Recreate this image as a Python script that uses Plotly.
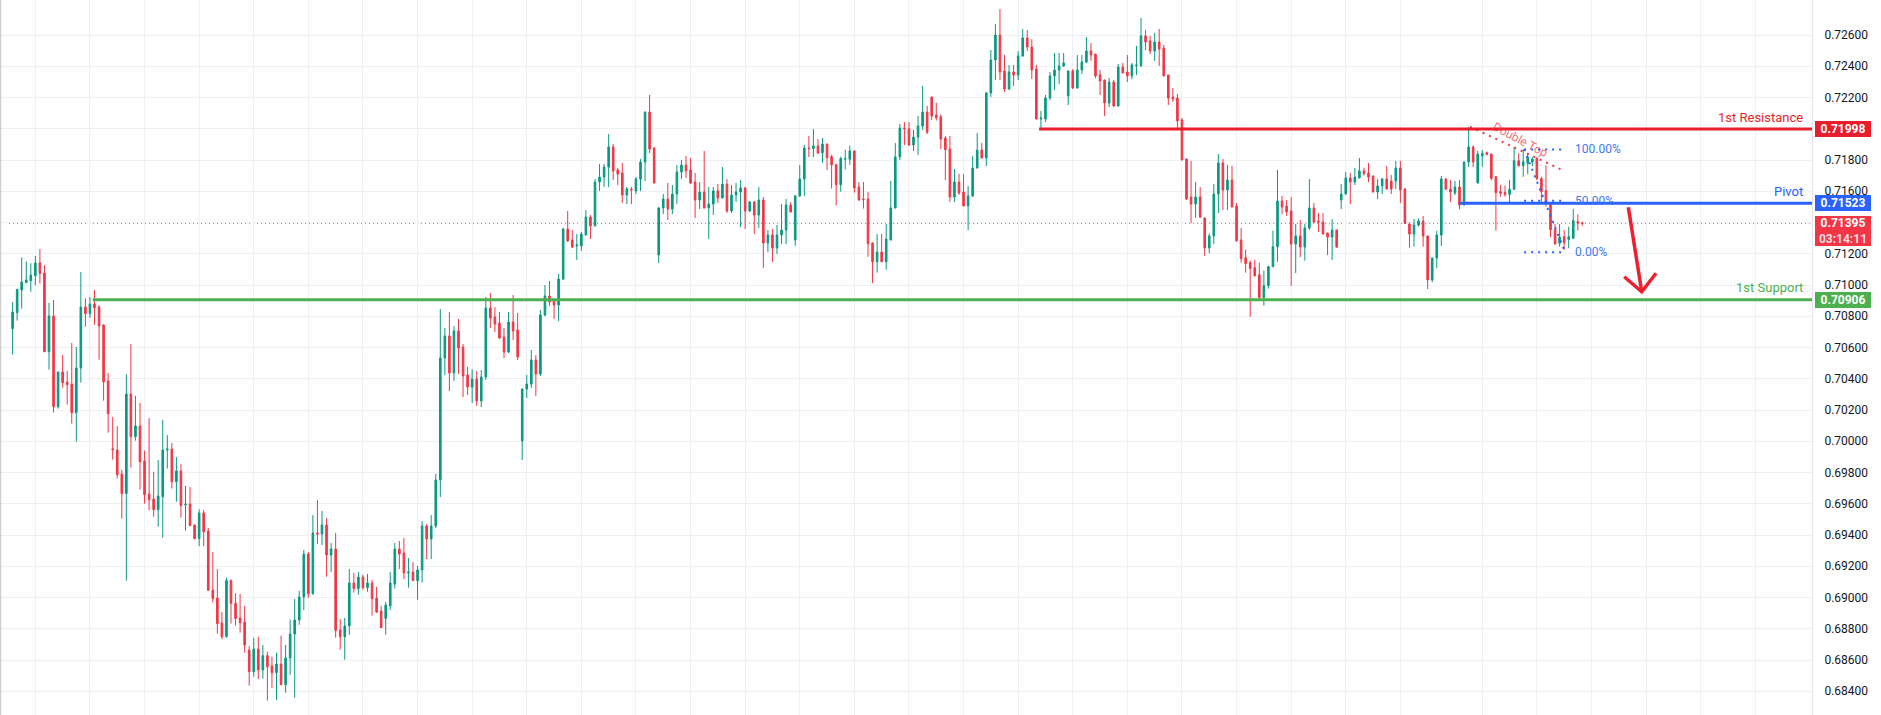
import plotly.graph_objects as go

# ---------------- data ----------------
open_ = [
0.70721,0.70823,0.70968,0.71015,0.71028,0.71060,0.71141,0.71077,0.70573,0.70802,
0.70221,0.70443,0.70379,0.70366,0.70183,0.70469,0.70859,0.70817,0.70878,0.70859,
0.70744,0.70386,0.69952,0.69944,0.69790,0.69665,0.70302,0.70029,0.70098,0.69874,
0.69662,0.69630,0.69562,0.69645,0.69944,0.69950,0.69741,0.69810,0.69594,0.69598,
0.69464,0.69377,0.69541,0.69426,0.69048,0.68997,0.68837,0.68749,0.69108,0.68963,
0.68869,0.68843,0.68664,0.68525,0.68670,0.68536,0.68628,0.68562,0.68519,0.68574,
0.68442,0.68613,0.68766,0.68856,0.69003,0.69278,0.69025,0.69413,0.69406,0.69464,
0.69272,0.69310,0.68792,0.68749,0.68818,0.69093,0.69057,0.69131,0.69063,0.69093,
0.68997,0.68914,0.68865,0.68946,0.69086,0.69310,0.69285,0.69157,0.69163,0.69108,
0.69176,0.69458,0.69374,0.69458,0.69752,0.70533,0.70674,0.70437,0.70706,0.70603,
0.70424,0.70347,0.70398,0.70258,0.70411,0.70853,0.70795,0.70757,0.70667,0.70571,
0.70763,0.70712,0.70002,0.70334,0.70366,0.70520,0.70430,0.70808,0.70930,0.70904,
0.70872,0.71038,0.71358,0.71288,0.71250,0.71250,0.71320,0.71435,0.71378,0.71659,
0.71691,0.71755,0.71884,0.71736,0.71717,0.71576,0.71614,0.71602,0.71678,0.71787,
0.72107,0.71877,0.71192,0.71493,0.71550,0.71486,0.71582,0.71723,0.71768,0.71736,
0.71659,0.71544,0.71595,0.71493,0.71518,0.71602,0.71557,0.71646,0.71474,0.71576,
0.71595,0.71621,0.71474,0.71531,0.71448,0.71544,0.71269,0.71320,0.71237,0.71320,
0.71352,0.71512,0.71288,0.71570,0.71678,0.71877,0.71873,0.71890,0.71847,0.71902,
0.71821,0.71770,0.71642,0.71805,0.71805,0.71858,0.71627,0.71550,0.71550,0.71269,
0.71149,0.71211,0.71149,0.71288,0.71493,0.71819,0.72005,0.72000,0.71896,0.71947,
0.72018,0.72107,0.72203,0.72088,0.72077,0.71941,0.71870,0.71563,0.71659,0.71595,
0.71506,0.71570,0.71749,0.71864,0.71813,0.72229,0.72440,0.72600,0.72370,0.72254,
0.72363,0.72344,0.72466,0.72581,0.72523,0.72382,0.72062,0.72062,0.72197,0.72338,
0.72376,0.72402,0.72210,0.72370,0.72261,0.72376,0.72427,0.72498,0.72478,0.72344,
0.72312,0.72165,0.72299,0.72146,0.72395,0.72363,0.72338,0.72404,0.72404,0.72594,
0.72562,0.72498,0.72555,0.72517,0.72344,0.72203,0.72197,0.72056,0.71806,0.71563,
0.71518,0.71563,0.71429,0.71237,0.71314,0.71582,0.71781,0.71608,0.71672,0.71506,
0.71288,0.71175,0.71143,0.71111,0.71066,0.70919,0.70996,0.71117,0.71245,0.71538,
0.71506,0.71474,0.71262,0.71314,0.71243,0.71365,0.71493,0.71410,0.71403,0.71333,
0.71307,0.71352,0.71544,0.71582,0.71685,0.71659,0.71685,0.71730,0.71717,0.71698,
0.71595,0.71634,0.71678,0.71666,0.71666,0.71749,0.71614,0.71390,0.71326,0.71384,
0.71410,0.71314,0.71032,0.71173,0.71320,0.71678,0.71614,0.71589,0.71627,0.71512,
0.71787,0.71883,0.71653,0.71826,0.71847,0.71838,0.71693,0.71597,0.71593,0.71580,
0.71612,0.71796,0.71764,0.71779,0.71787,0.71811,0.71681,0.71604,0.71518,0.71354,
0.71267,0.71309,0.71292,0.71299,0.71405,0.71397]

high = [
0.70891,0.70975,0.71177,0.71151,0.71139,0.71186,0.71230,0.71126,0.70885,0.70904,
0.70445,0.70552,0.70450,0.70629,0.70603,0.71083,0.70915,0.70923,0.70968,0.70872,
0.70750,0.70437,0.70155,0.70098,0.69818,0.70430,0.70622,0.70290,0.70245,0.69940,
0.70149,0.69805,0.69880,0.70136,0.70040,0.69989,0.69899,0.69854,0.69714,0.69707,
0.69466,0.69564,0.69560,0.69445,0.69291,0.69182,0.68907,0.69127,0.69116,0.69027,
0.69023,0.68946,0.68690,0.68743,0.68749,0.68696,0.68653,0.68621,0.68647,0.68756,
0.68696,0.68860,0.68990,0.69042,0.69304,0.69291,0.69528,0.69624,0.69554,0.69509,
0.69349,0.69413,0.68862,0.68869,0.69182,0.69157,0.69163,0.69144,0.69150,0.69112,
0.69069,0.68946,0.68971,0.69163,0.69349,0.69362,0.69381,0.69253,0.69227,0.69202,
0.69490,0.69470,0.69528,0.69790,0.70846,0.70725,0.70827,0.70738,0.70782,0.70622,
0.70475,0.70462,0.70450,0.70456,0.70923,0.70949,0.70859,0.70827,0.70725,0.70827,
0.70936,0.70821,0.70336,0.70424,0.70584,0.70552,0.70840,0.71000,0.71026,0.70910,
0.71070,0.71365,0.71474,0.71352,0.71326,0.71339,0.71480,0.71448,0.71678,0.71774,
0.71774,0.71966,0.71902,0.71749,0.71781,0.71627,0.71627,0.71691,0.71806,0.72110,
0.72216,0.71880,0.71500,0.71582,0.71653,0.71640,0.71768,0.71800,0.71826,0.71813,
0.71717,0.71659,0.71858,0.71627,0.71627,0.71646,0.71755,0.71678,0.71640,0.71653,
0.71672,0.71627,0.71538,0.71538,0.71627,0.71563,0.71352,0.71358,0.71384,0.71518,
0.71550,0.71531,0.71576,0.71768,0.71896,0.71954,0.71998,0.71934,0.71941,0.71905,
0.71834,0.71773,0.71821,0.71866,0.71892,0.71860,0.71659,0.71659,0.71595,0.71272,
0.71326,0.71326,0.71390,0.71666,0.71909,0.72030,0.72043,0.72043,0.71992,0.72082,
0.72274,0.72146,0.72205,0.72167,0.72092,0.71954,0.71954,0.71742,0.71710,0.71710,
0.71634,0.71826,0.71973,0.71909,0.72235,0.72504,0.72670,0.72766,0.72472,0.72408,
0.72408,0.72498,0.72638,0.72632,0.72574,0.72408,0.72114,0.72216,0.72363,0.72485,
0.72485,0.72485,0.72372,0.72382,0.72472,0.72472,0.72587,0.72549,0.72480,0.72376,
0.72314,0.72325,0.72312,0.72414,0.72421,0.72472,0.72421,0.72530,0.72709,0.72632,
0.72594,0.72613,0.72638,0.72536,0.72346,0.72261,0.72222,0.72069,0.71808,0.71794,
0.71659,0.71627,0.71432,0.71330,0.71646,0.71838,0.71806,0.71768,0.71762,0.71525,
0.71365,0.71226,0.71156,0.71162,0.71143,0.71092,0.71124,0.71348,0.71736,0.71570,
0.71544,0.71563,0.71390,0.71416,0.71390,0.71678,0.71525,0.71461,0.71461,0.71335,
0.71422,0.71355,0.71646,0.71723,0.71717,0.71749,0.71813,0.71751,0.71781,0.71700,
0.71678,0.71685,0.71762,0.71704,0.71794,0.71794,0.71621,0.71400,0.71422,0.71427,
0.71442,0.71316,0.71175,0.71346,0.71698,0.71685,0.71672,0.71666,0.71672,0.71790,
0.72011,0.71894,0.71858,0.71864,0.71854,0.71841,0.71696,0.71640,0.71636,0.71672,
0.71885,0.71843,0.71868,0.71832,0.71820,0.71817,0.71693,0.71766,0.71520,0.71390,
0.71390,0.71352,0.71373,0.71486,0.71452,0.71405]

low = [
0.70554,0.70772,0.70849,0.71013,0.70957,0.70998,0.71009,0.70570,0.70458,0.70183,
0.70209,0.70343,0.70234,0.70113,0.69997,0.70375,0.70733,0.70789,0.70746,0.70522,
0.70260,0.70055,0.69882,0.69761,0.69505,0.69108,0.69831,0.70004,0.69690,0.69601,
0.69558,0.69517,0.69453,0.69383,0.69825,0.69697,0.69613,0.69511,0.69428,0.69458,
0.69372,0.69328,0.69328,0.69044,0.68967,0.68769,0.68732,0.68743,0.68833,0.68820,
0.68775,0.68647,0.68436,0.68493,0.68478,0.68481,0.68340,0.68421,0.68344,0.68440,
0.68391,0.68504,0.68359,0.68826,0.68920,0.68999,0.69018,0.69342,0.69336,0.69133,
0.69163,0.68743,0.68666,0.68602,0.68762,0.69031,0.69018,0.69050,0.69037,0.68884,
0.68901,0.68805,0.68762,0.68920,0.69057,0.69182,0.69118,0.69063,0.69106,0.68986,
0.69095,0.69246,0.69246,0.69445,0.69643,0.70424,0.70322,0.70386,0.70430,0.70283,
0.70296,0.70245,0.70226,0.70219,0.70392,0.70725,0.70699,0.70654,0.70533,0.70565,
0.70648,0.70520,0.69880,0.70277,0.70341,0.70290,0.70418,0.70800,0.70866,0.70782,
0.70770,0.71032,0.71275,0.71237,0.71160,0.71218,0.71318,0.71294,0.71376,0.71602,
0.71627,0.71627,0.71672,0.71640,0.71525,0.71518,0.71518,0.71582,0.71602,0.71666,
0.71845,0.71650,0.71141,0.71454,0.71416,0.71454,0.71518,0.71678,0.71685,0.71646,
0.71429,0.71486,0.71490,0.71294,0.71448,0.71525,0.71555,0.71461,0.71461,0.71531,
0.71371,0.71358,0.71467,0.71326,0.71365,0.71109,0.71211,0.71147,0.71198,0.71262,
0.71262,0.71465,0.71250,0.71565,0.71570,0.71819,0.71819,0.71838,0.71783,0.71736,
0.71617,0.71508,0.71597,0.71740,0.71770,0.71591,0.71540,0.71489,0.71181,0.71013,
0.71079,0.71147,0.71098,0.71286,0.71490,0.71800,0.71896,0.71890,0.71858,0.71832,
0.71992,0.71966,0.72056,0.72052,0.71870,0.71672,0.71531,0.71531,0.71576,0.71504,
0.71352,0.71563,0.71745,0.71810,0.71762,0.72203,0.72312,0.72312,0.72235,0.72250,
0.72274,0.72312,0.72460,0.72498,0.72318,0.72060,0.71992,0.72043,0.72184,0.72248,
0.72286,0.72395,0.72152,0.72254,0.72258,0.72350,0.72420,0.72434,0.72325,0.72216,
0.72082,0.72139,0.72139,0.72144,0.72355,0.72299,0.72318,0.72344,0.72395,0.72504,
0.72478,0.72434,0.72402,0.72336,0.72152,0.72171,0.72005,0.71798,0.71544,0.71397,
0.71429,0.71429,0.71186,0.71203,0.71262,0.71461,0.71480,0.71480,0.71497,0.71280,
0.71143,0.71079,0.70797,0.71053,0.70917,0.70868,0.70977,0.71115,0.71149,0.71454,
0.71442,0.70994,0.71077,0.71179,0.71156,0.71352,0.71397,0.71339,0.71324,0.71192,
0.71160,0.71237,0.71486,0.71580,0.71518,0.71640,0.71683,0.71700,0.71659,0.71593,
0.71550,0.71582,0.71612,0.71582,0.71614,0.71525,0.71390,0.71239,0.71245,0.71374,
0.71245,0.70974,0.71017,0.71109,0.71250,0.71608,0.71531,0.71576,0.71484,0.71510,
0.71755,0.71755,0.71650,0.71757,0.71830,0.71670,0.71348,0.71565,0.71565,0.71529,
0.71610,0.71757,0.71693,0.71710,0.71760,0.71670,0.71523,0.71501,0.71305,0.71260,
0.71245,0.71224,0.71235,0.71297,0.71348,0.71380]

close = [
0.70827,0.70972,0.71019,0.71032,0.71064,0.71141,0.71073,0.70573,0.70802,0.70221,
0.70443,0.70375,0.70362,0.70183,0.70469,0.70859,0.70817,0.70878,0.70855,0.70738,
0.70381,0.70177,0.69946,0.69786,0.69665,0.70302,0.70029,0.70098,0.69869,0.69658,
0.69626,0.69562,0.69650,0.69944,0.69950,0.69741,0.69810,0.69588,0.69598,0.69460,
0.69377,0.69541,0.69421,0.69046,0.68993,0.68833,0.68749,0.69108,0.68963,0.68865,
0.68839,0.68696,0.68525,0.68670,0.68536,0.68628,0.68557,0.68519,0.68574,0.68442,
0.68613,0.68766,0.68856,0.69003,0.69278,0.69025,0.69413,0.69406,0.69464,0.69272,
0.69310,0.68788,0.68749,0.68818,0.69093,0.69057,0.69131,0.69063,0.69093,0.68993,
0.68907,0.68807,0.68952,0.69093,0.69310,0.69278,0.69157,0.69163,0.69108,0.69176,
0.69458,0.69374,0.69458,0.69752,0.70533,0.70674,0.70437,0.70706,0.70597,0.70418,
0.70347,0.70398,0.70258,0.70411,0.70853,0.70789,0.70750,0.70661,0.70571,0.70763,
0.70706,0.70539,0.70334,0.70366,0.70520,0.70430,0.70808,0.70930,0.70891,0.70872,
0.71038,0.71358,0.71282,0.71243,0.71256,0.71326,0.71435,0.71378,0.71659,0.71691,
0.71755,0.71884,0.71730,0.71710,0.71576,0.71614,0.71610,0.71678,0.71787,0.72107,
0.71870,0.71653,0.71493,0.71550,0.71486,0.71582,0.71723,0.71768,0.71730,0.71653,
0.71544,0.71595,0.71493,0.71518,0.71602,0.71557,0.71646,0.71474,0.71576,0.71595,
0.71621,0.71474,0.71531,0.71448,0.71544,0.71269,0.71320,0.71237,0.71320,0.71352,
0.71512,0.71467,0.71570,0.71678,0.71877,0.71873,0.71890,0.71845,0.71902,0.71815,
0.71770,0.71642,0.71809,0.71809,0.71858,0.71621,0.71544,0.71546,0.71265,0.71149,
0.71211,0.71149,0.71294,0.71493,0.71819,0.72005,0.72000,0.71896,0.71947,0.72018,
0.72107,0.71979,0.72082,0.72071,0.71934,0.71866,0.71563,0.71659,0.71589,0.71506,
0.71570,0.71749,0.71864,0.71813,0.72229,0.72440,0.72600,0.72363,0.72254,0.72363,
0.72344,0.72466,0.72581,0.72523,0.72376,0.72062,0.72069,0.72197,0.72338,0.72376,
0.72402,0.72421,0.72370,0.72261,0.72376,0.72427,0.72498,0.72472,0.72338,0.72306,
0.72165,0.72299,0.72146,0.72395,0.72357,0.72338,0.72408,0.72408,0.72594,0.72555,
0.72498,0.72555,0.72510,0.72338,0.72197,0.72190,0.72050,0.71800,0.71550,0.71518,
0.71563,0.71435,0.71237,0.71314,0.71582,0.71781,0.71608,0.71672,0.71499,0.71282,
0.71168,0.71137,0.71105,0.71060,0.70919,0.70996,0.71117,0.71245,0.71538,0.71499,
0.71467,0.71262,0.71314,0.71243,0.71365,0.71493,0.71403,0.71403,0.71326,0.71307,
0.71352,0.71243,0.71582,0.71685,0.71659,0.71691,0.71730,0.71713,0.71691,0.71595,
0.71634,0.71678,0.71614,0.71614,0.71749,0.71608,0.71395,0.71326,0.71384,0.71410,
0.71314,0.71032,0.71173,0.71320,0.71678,0.71614,0.71595,0.71627,0.71512,0.71787,
0.71883,0.71787,0.71838,0.71843,0.71836,0.71683,0.71591,0.71587,0.71580,0.71612,
0.71796,0.71764,0.71789,0.71817,0.71806,0.71681,0.71597,0.71529,0.71354,0.71262,
0.71305,0.71271,0.71309,0.71412,0.71395,0.71395]

bar_index = list(range(len(close)))

# price-axis ticks and time-grid positions (bar indices)
y_ticks = [0.684, 0.686, 0.688, 0.690, 0.692, 0.694, 0.696, 0.698, 0.700, 0.702, 0.704,
           0.706, 0.708, 0.710, 0.712, 0.714, 0.716, 0.718, 0.720, 0.722, 0.724, 0.726]
# labels hidden behind the price boxes in the reference
y_hidden = [0.714, 0.720]
time_grid = [5, 17, 29, 41, 53, 65, 77, 89, 101, 113, 125, 137, 149, 161, 173, 185, 197,
             209, 221, 233, 245, 257, 269, 281, 293, 305, 323, 335, 347, 359, 371, 383]

# key levels
resistance, resistance_start, resistance_name = 0.71998, 225.6, "1st Resistance"
pivot, pivot_start, pivot_name = 0.71523, 318.0, "Pivot"
support, support_start, support_name = 0.70906, 17.6, "1st Support"
last_price, countdown = 0.71395, "03:14:11"

# fibonacci drawing
fib_levels = [0.71868, 0.71539, 0.71210]
fib_labels = ["100.00%", "50.00%", "0.00%"]
fib_start, fib_end, fib_text_x = 332.2, 341.2, 342.9

# double top pattern line
dtop_x = [320.3, 341.0]
dtop_y = [0.72013, 0.71730]
dtop_text_x, dtop_text_y, dtop_text = 331.4, 0.71928, "Double Top"

# projected move arrow (shaft and head)
arrow_x = [355.1, 358.05, None, 354.2, 358.05, 361.2]
arrow_y = [0.71497, 0.70957, None, 0.71053, 0.70957, 0.71075]

# view window
x_view = [-2.769, 395.47]
y_view = [0.68248, 0.72824]

# ---------------- styling ----------------
UP = "#089981"
DOWN = "#F23645"
RES_RED = "#E91E2C"
PIV_BLUE = "#2962FF"
SUP_GREEN = "#4CAF50"
GRID = "#eef0f3"
FONT = "Roboto"

fig = go.Figure()
fig.add_trace(go.Candlestick(
    x=bar_index, open=open_, high=high, low=low, close=close,
    increasing=dict(line=dict(color=UP, width=1), fillcolor=UP),
    decreasing=dict(line=dict(color=DOWN, width=1), fillcolor=DOWN),
    whiskerwidth=0, showlegend=False, hoverinfo="skip"))

# fib levels (dotted)
for lv in fib_levels:
    fig.add_trace(go.Scatter(x=[fib_start, fib_end], y=[lv, lv], mode="lines",
                             line=dict(color=PIV_BLUE, width=2, dash="2px,5px"),
                             showlegend=False, hoverinfo="skip"))
fig.add_trace(go.Scatter(x=[fib_start, fib_end], y=[fib_levels[0], fib_levels[-1]], mode="lines",
                         line=dict(color=PIV_BLUE, width=2, dash="2px,5px"),
                         showlegend=False, hoverinfo="skip"))
# double top dotted line
fig.add_trace(go.Scatter(x=dtop_x, y=dtop_y, mode="lines",
                         line=dict(color=DOWN, width=2, dash="2px,5px"),
                         showlegend=False, hoverinfo="skip"))
# arrow
fig.add_trace(go.Scatter(x=arrow_x, y=arrow_y, mode="lines",
                         line=dict(color="#EE1F2F", width=3.5),
                         showlegend=False, hoverinfo="skip"))

shapes = []
# last price dotted line
shapes.append(dict(type="line", xref="x", yref="y", x0=x_view[0] + 2.0, x1=x_view[1],
                   y0=last_price, y1=last_price, layer="below",
                   line=dict(color=DOWN, width=1, dash="1px,3px")))
for lv, x0, col in [(resistance, resistance_start, RES_RED),
                    (pivot, pivot_start, PIV_BLUE),
                    (support, support_start, SUP_GREEN)]:
    shapes.append(dict(type="line", xref="x", yref="y", x0=x0, x1=x_view[1],
                       y0=lv, y1=lv, layer="above", line=dict(color=col, width=3)))
# frame edge of the screenshot
shapes.append(dict(type="line", xref="paper", yref="paper", x0=0.0003, x1=0.0003, y0=0, y1=1,
                   line=dict(color="#cfcfcf", width=1.5)))

annotations = []
PAPER_R = 1812.0
box_x = 1815.0 / PAPER_R
name_x = 1805.0 / PAPER_R
for lv, name, col in [(resistance, resistance_name, RES_RED),
                      (pivot, pivot_name, PIV_BLUE),
                      (support, support_name, SUP_GREEN)]:
    annotations.append(dict(xref="paper", yref="y", x=box_x, y=lv, xanchor="left", yanchor="middle",
                            text="<b>%.5f</b>" % lv, showarrow=False, bgcolor=col,
                            font=dict(family=FONT, size=12, color="white"),
                            width=56, height=16, borderpad=0, borderwidth=0, align="center"))
    annotations.append(dict(xref="paper", yref="y", x=name_x, y=lv, xanchor="right", yanchor="middle",
                            yshift=12, text=name, showarrow=False,
                            font=dict(family=FONT, size=13, color=col)))
annotations.append(dict(xref="paper", yref="y", x=box_x, y=last_price, xanchor="left", yanchor="top",
                        yshift=7,
                        text="<b>%.5f</b><br><span style='color:#ffdfe2'><b>%s</b></span>" % (last_price, countdown),
                        showarrow=False, bgcolor=DOWN,
                        font=dict(family=FONT, size=12, color="white"),
                        width=56, height=30, borderpad=0, borderwidth=0, align="center"))
for lv, lab in zip(fib_levels, fib_labels):
    annotations.append(dict(xref="x", yref="y", x=fib_text_x, y=lv, xanchor="left", yanchor="middle",
                            text=lab, showarrow=False,
                            font=dict(family=FONT, size=12, color="#3D79F7")))
annotations.append(dict(xref="x", yref="y", x=dtop_text_x, y=dtop_text_y, text=dtop_text,
                        textangle=28, showarrow=False,
                        font=dict(family=FONT, size=12, color="rgba(242,54,69,0.75)")))

tick_text = ["" if any(abs(v - h) < 1e-9 for h in y_hidden) else "%.5f" % v for v in y_ticks]

fig.update_layout(
    width=1881, height=715,
    margin=dict(l=0, r=1881 - PAPER_R, t=0, b=0, pad=0),
    paper_bgcolor="white", plot_bgcolor="white",
    boxgap=0.5,
    font=dict(family=FONT, color="#131722"),
    shapes=shapes, annotations=annotations,
    xaxis=dict(range=x_view, rangeslider=dict(visible=False), showticklabels=False,
               tickvals=time_grid, ticks="", showgrid=True, gridcolor=GRID, gridwidth=1,
               zeroline=False, showline=False, fixedrange=True),
    yaxis=dict(range=y_view, side="right", tickvals=y_ticks, ticktext=tick_text,
               showgrid=True, gridcolor=GRID, gridwidth=1, zeroline=False,
               showline=True, linecolor="#e3e5ea", linewidth=1,
               ticks="outside", ticklen=9, tickcolor="rgba(0,0,0,0)",
               tickfont=dict(family=FONT, size=12, color="#131722"), fixedrange=True),
)

fig.write_html("out.html", config={"displayModeBar": False})
